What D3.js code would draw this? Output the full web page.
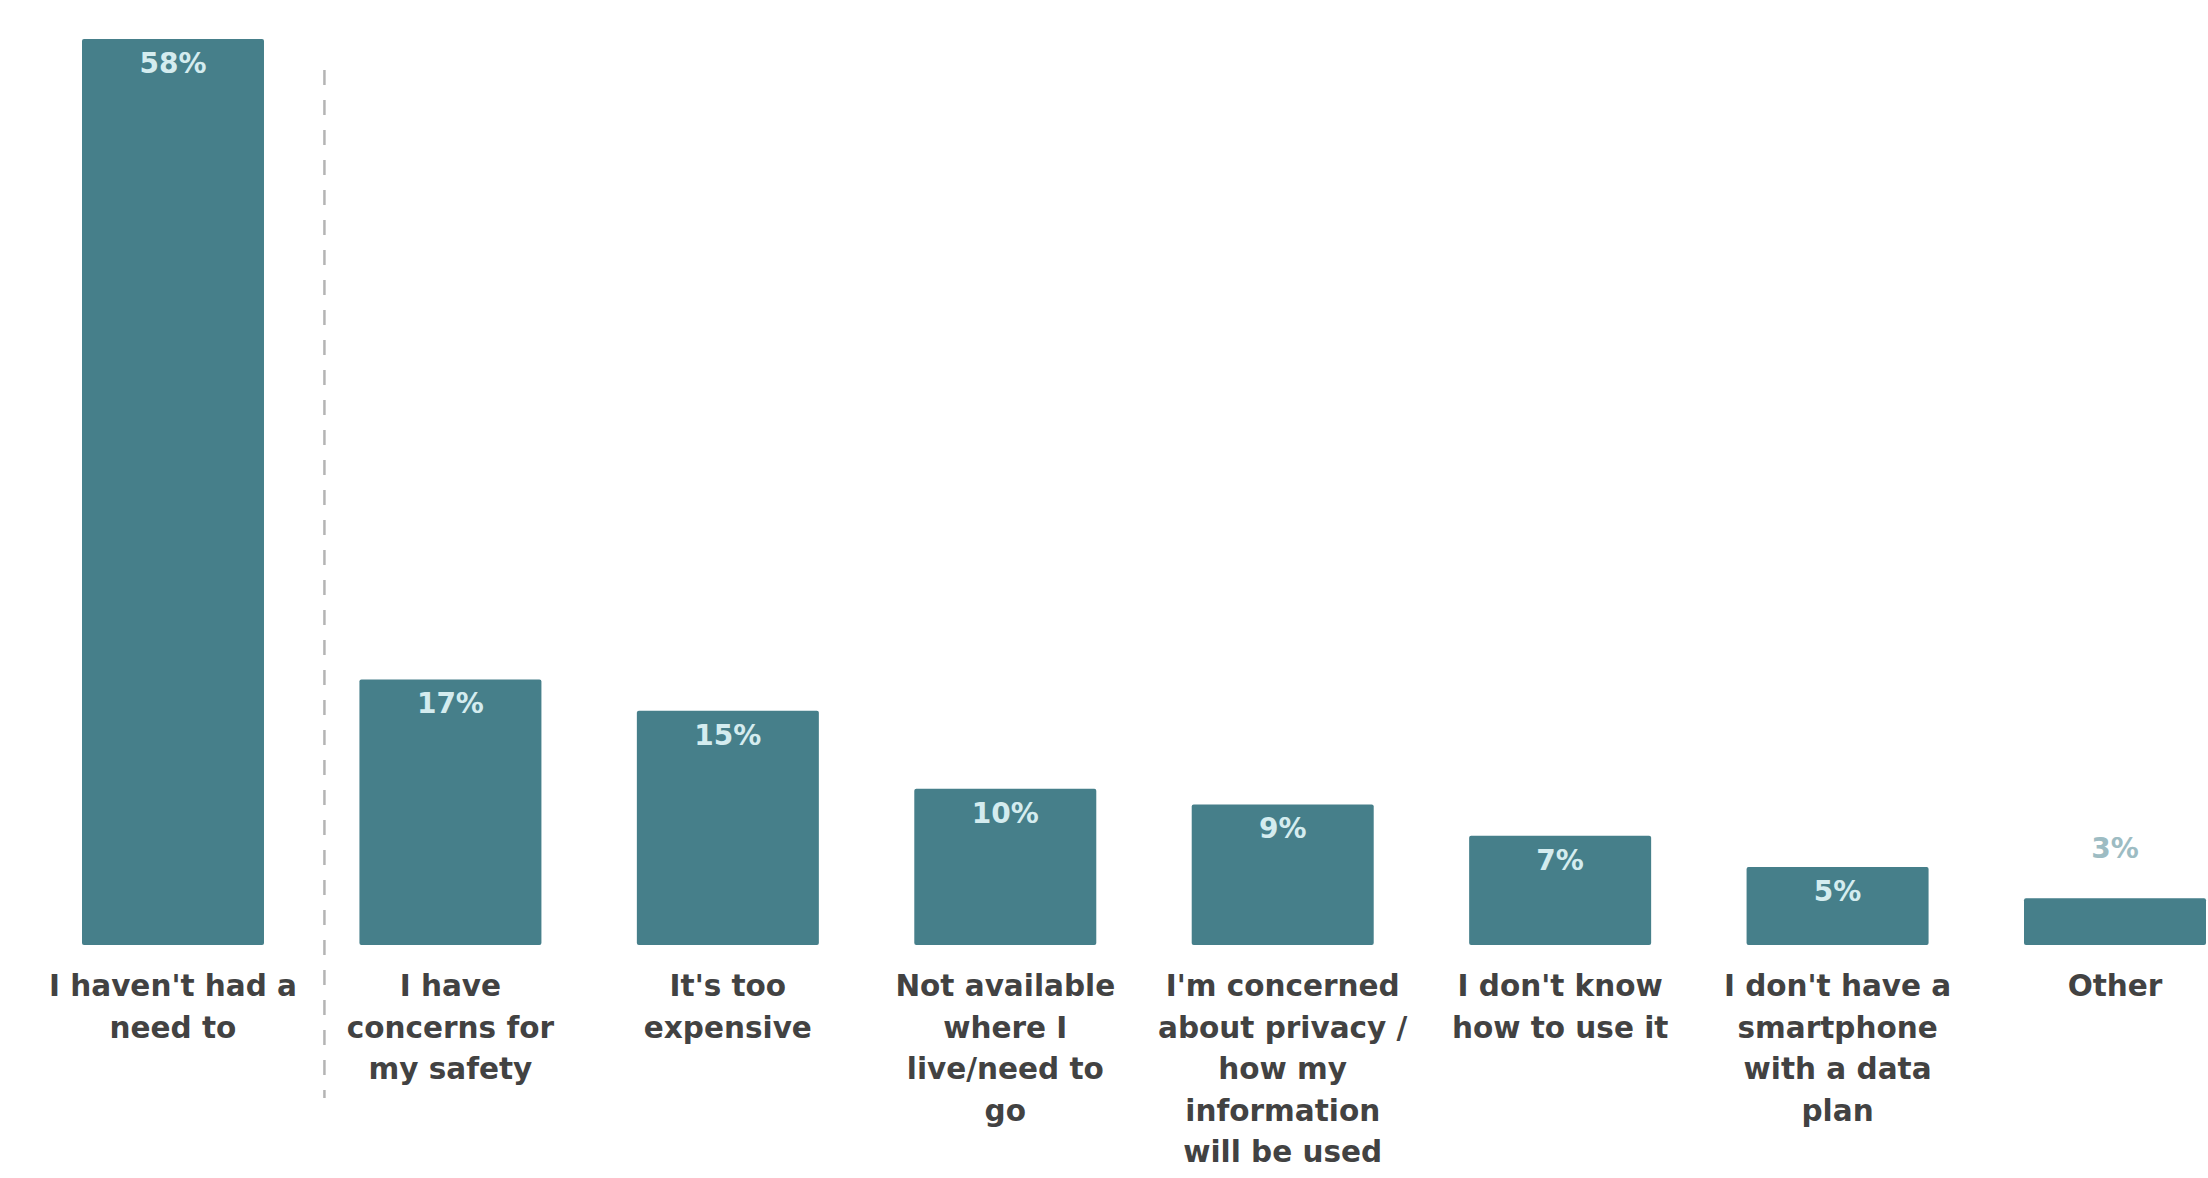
<!DOCTYPE html>
<html>
<head>
<meta charset="utf-8">
<script src="https://cdn.jsdelivr.net/npm/d3@7"></script>
<style>
  html, body { margin: 0; padding: 0; background: #ffffff; }
  svg { display: block; }
</style>
</head>
<body>
<svg id="chart" width="2208" height="1178"></svg>
<script>
// Reasons given for not using the service (share of respondents, %)
const categories = [
  "I haven't had a need to",
  "I have concerns for my safety",
  "It's too expensive",
  "Not available where I live/need to go",
  "I'm concerned about privacy / how my information will be used",
  "I don't know how to use it",
  "I don't have a smartphone with a data plan",
  "Other"
];
const values = [58, 17, 15, 10, 9, 7, 5, 3];
const valueLabels = ["58%", "17%", "15%", "10%", "9%", "7%", "5%", "3%"];
// Category labels as they wrap under each bar
const labelLines = [
  ["I haven't had a", "need to"],
  ["I have", "concerns for", "my safety"],
  ["It's too", "expensive"],
  ["Not available", "where I", "live/need to", "go"],
  ["I'm concerned", "about privacy /", "how my", "information", "will be used"],
  ["I don't know", "how to use it"],
  ["I don't have a", "smartphone", "with a data", "plan"],
  ["Other"]
];

const svg = d3.select("#chart");
const baseY = 945;
const topY = 39;

const x = d3.scaleBand()
  .domain(categories)
  .range([82, 2206])
  .paddingInner(0.344)
  .paddingOuter(0);

const y = d3.scaleLinear()
  .domain([0, d3.max(values)])
  .range([baseY, topY]);

const data = categories.map((c, i) => ({
  cat: c, value: values[i], label: valueLabels[i], lines: labelLines[i]
}));

const barColor = "#467f8a";
const font = "'DejaVu Sans', Verdana, sans-serif";

// Dashed separator after the first bar
const sepX = x(categories[1]) - 35;
svg.append("line")
  .attr("x1", sepX).attr("x2", sepX)
  .attr("y1", 70).attr("y2", 1098)
  .attr("stroke", "#b4b4b4")
  .attr("stroke-width", 2.5)
  .attr("stroke-dasharray", "15,15");

// Bars
svg.append("g").selectAll("rect")
  .data(data)
  .join("rect")
  .attr("x", d => x(d.cat))
  .attr("y", d => y(d.value))
  .attr("width", x.bandwidth())
  .attr("height", d => baseY - y(d.value))
  .attr("rx", 2)
  .attr("fill", barColor);

// Value labels: inside the bar top, or above it when the bar is too short
const fits = d => (baseY - y(d.value)) > 60;
svg.append("g").selectAll("text")
  .data(data)
  .join("text")
  .attr("x", d => x(d.cat) + x.bandwidth() / 2)
  .attr("y", d => fits(d) ? y(d.value) + 34 : y(d.value) - 40)
  .attr("text-anchor", "middle")
  .attr("font-family", font)
  .attr("font-weight", "bold")
  .attr("font-size", 28)
  .attr("fill", d => fits(d) ? "#d4ecef" : "#9dbcc3")
  .text(d => d.label);

// Category labels below the bars
const lab = svg.append("g").selectAll("text")
  .data(data)
  .join("text")
  .attr("x", d => x(d.cat) + x.bandwidth() / 2)
  .attr("y", 996)
  .attr("text-anchor", "middle")
  .attr("font-family", font)
  .attr("font-weight", "bold")
  .attr("font-size", 29.5)
  .attr("fill", "#424242");

lab.selectAll("tspan")
  .data(d => d.lines.map(l => ({ l, cx: x(d.cat) + x.bandwidth() / 2 })))
  .join("tspan")
  .attr("x", d => d.cx)
  .attr("dy", (d, i) => i === 0 ? 0 : 41.5)
  .text(d => d.l);
</script>
</body>
</html>
